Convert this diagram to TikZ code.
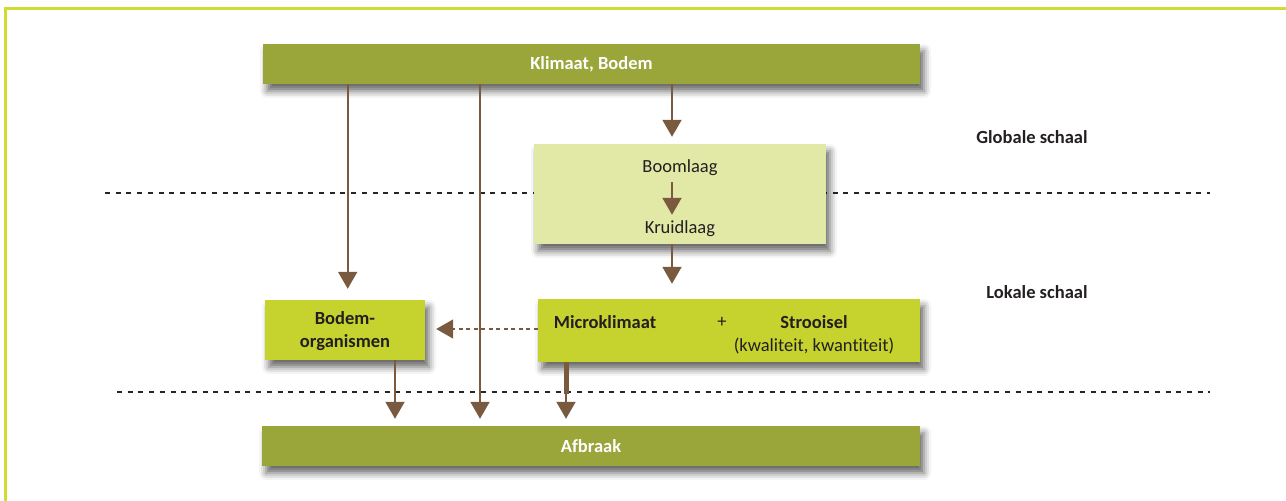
\documentclass[tikz,border=0pt]{standalone}
\usepackage{fontspec}
\setmainfont{Carlito}[Ligatures=NoCommon]
\usetikzlibrary{arrows.meta,shadows.blur}
\definecolor{olive}{HTML}{9AA53A}
\definecolor{paleg}{HTML}{E2E8A6}
\definecolor{lime}{HTML}{C6D22E}
\definecolor{brownarr}{HTML}{7A5A3E}
\definecolor{framec}{HTML}{CFDC30}
\definecolor{txt}{HTML}{231F20}
\tikzset{
  box/.style={rectangle, inner sep=0pt, minimum width=#1, blur shadow={shadow xshift=4pt, shadow yshift=-7pt, shadow blur radius=7pt, shadow opacity=60}},
  bar/.style={box=#1, fill=olive, minimum height=40pt, text=white, font=\fontsize{18.5}{20}\selectfont\bfseries},
  lbl/.style={inner sep=0pt, text=txt, font=\fontsize{18.5}{20}\selectfont},
  blbl/.style={lbl, font=\fontsize{18.5}{20}\selectfont\bfseries},
  arr/.style={draw=brownarr, line width=2pt, -{Triangle[width=19pt,length=17pt]}},
  sep/.style={draw=black!85, line width=1.1pt, dash pattern=on 5pt off 5.7pt}
}
\begin{document}
\begin{tikzpicture}[x=1pt,y=-1pt]
\useasboundingbox (0,0) rectangle (1286,501);
% frame
\draw[framec, line width=3pt] (5.5,501) -- (5.5,8) -- (1286,8);
% separators
\coordinate (s1a) at (105,193);
\coordinate (s1b) at (1210,193);
\coordinate (s2a) at (117,392);
\coordinate (s2b) at (1210,392);
\draw[sep] (s1a) -- (s1b);
\draw[sep] (s2a) -- (s2b);
% boxes
\node[bar=657pt] (klimaat) at (591.5,64) {Klimaat, Bodem};
\node[box=292pt, fill=paleg, minimum height=100pt] (laag) at (680,194) {};
\node[lbl] (boom) at (680,168) {Boomlaag};
\node[lbl] (kruid) at (680,229) {Kruidlaag};
\node[box=160pt, fill=lime, minimum height=60pt] (bodem) at (345,330) {};
\node[lbl, align=center, font=\fontsize{18.5}{23}\selectfont\bfseries] (bodemt) at (345,331) {Bodem-\\organismen};
\node[box=382pt, fill=lime, minimum height=63pt] (micro) at (729,330.5) {};
\node[blbl] (microt) at (605,322) {Microklimaat};
\node[lbl] (plus) at (722,322) {+};
\node[blbl] (stro) at (814,322) {Strooisel};
\node[lbl] (kwal) at (814,346) {(kwaliteit, kwantiteit)};
\node[bar=658pt] (afbraak) at (591,446) {Afbraak};
% scale labels
\node[blbl] (glob) at (1032,137) {Globale schaal};
\node[blbl] (lok) at (1037,292) {Lokale schaal};
% arrows
\coordinate (x1) at (347.7,0);
\coordinate (x2) at (480,0);
\coordinate (x3) at (672,0);
\coordinate (x4) at (395,0);
\coordinate (x5) at (566,0);
\coordinate (thk) at (566,394);
\draw[arr, shorten >=11pt] (klimaat.south -| x1) -- (bodem.north -| x1);
\draw[arr, shorten >=7pt] (klimaat.south -| x2) -- (afbraak.north -| x2);
\draw[arr, shorten >=7pt] (klimaat.south -| x3) -- (laag.north -| x3);
\draw[arr, shorten <=6pt, shorten >=6pt] (boom.south -| x3) -- (kruid.north -| x3);
\draw[arr, shorten >=15pt] (laag.south -| x3) -- (micro.north -| x3);
\draw[arr, dash pattern=on 4pt off 3.5pt, line width=1.5pt, shorten >=11pt] (micro.west |- 0,329) -- (bodem.east |- 0,329);
\draw[arr, shorten >=7pt] (bodem.south -| x4) -- (afbraak.north -| x4);
\draw[brownarr, line width=5pt] (micro.south -| x5) -- (thk);
\draw[arr, shorten >=7pt] (micro.south -| x5) -- (afbraak.north -| x5);
\end{tikzpicture}
\end{document}
